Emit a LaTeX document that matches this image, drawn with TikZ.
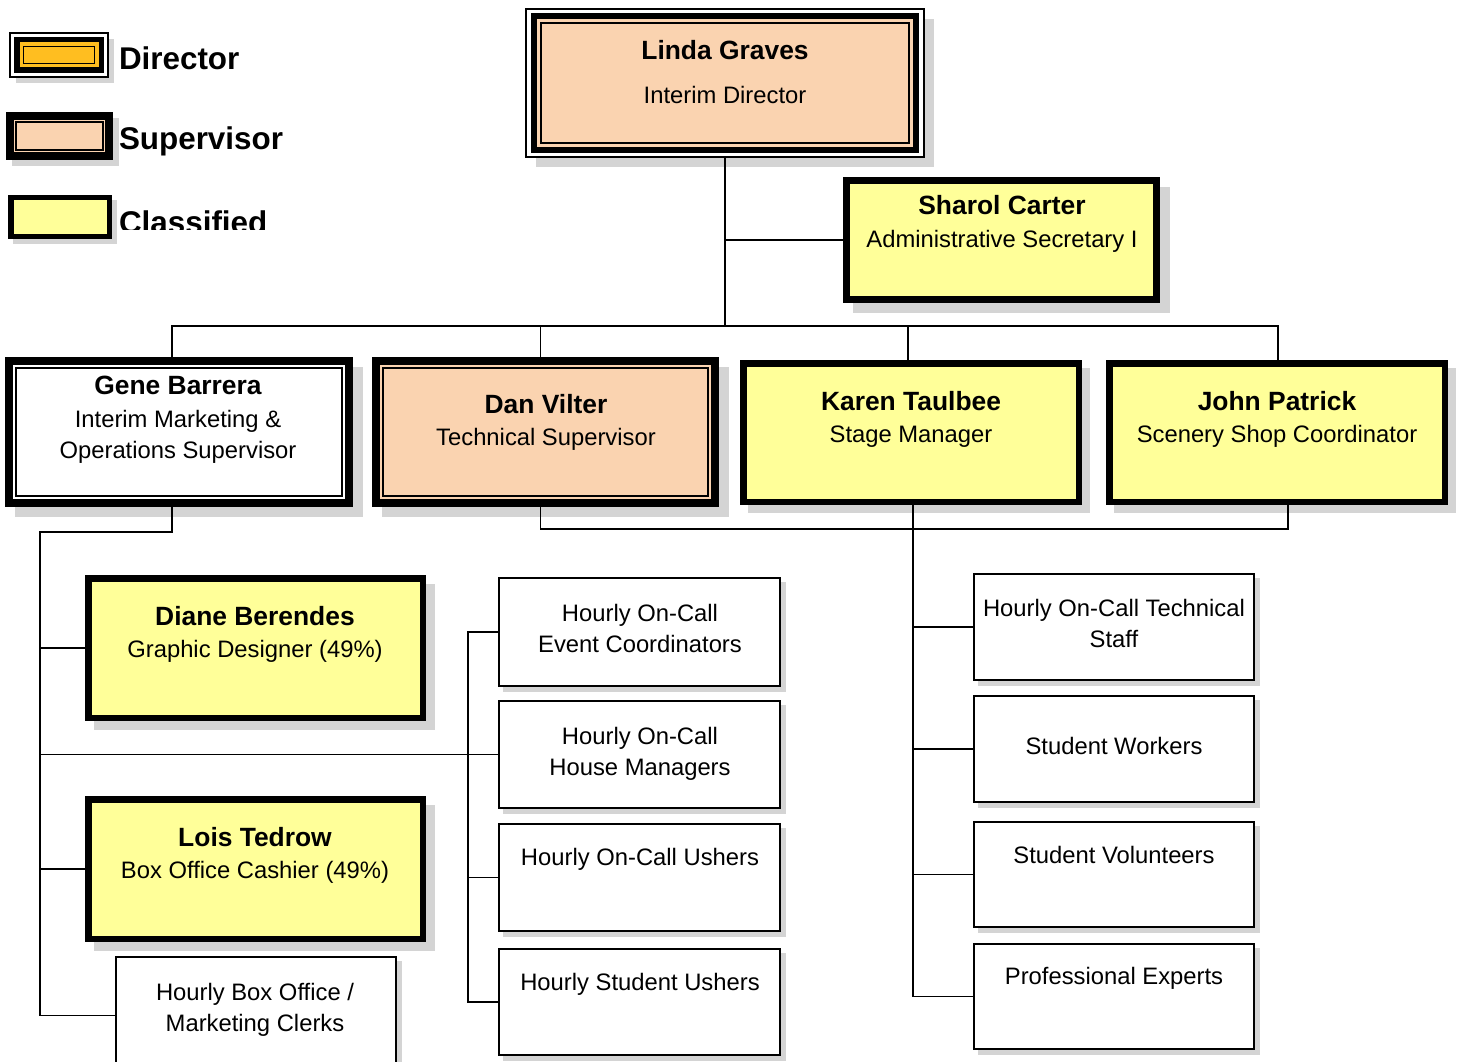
\documentclass[tikz,border=0pt]{standalone}
\usepackage{fontspec}
\setmainfont{Liberation Sans}
\usetikzlibrary{calc}
\pgfdeclarelayer{shadow}\pgfdeclarelayer{lines}\pgfdeclarelayer{frame}\pgfdeclarelayer{bg}
\pgfsetlayers{bg,shadow,lines,frame,main}
\definecolor{peach}{RGB}{250,211,176}
\definecolor{cyellow}{RGB}{255,255,153}
\definecolor{dorange}{RGB}{255,190,32}
\definecolor{shadowc}{RGB}{212,212,212}
\newcommand\myshadow[5]{\begin{pgfonlayer}{shadow}\fill[shadowc] ({#1+#5},{#2+#5}) rectangle ({#3+#5},{#4+#5});\end{pgfonlayer}}
\newcommand\obox[7]{\node[#2, draw=black, line width=#3pt, minimum width={#6-#4-#3}, minimum height={#7-#5-#3}] (#1) at ({(#4+#6)/2},{(#5+#7)/2}) {};}
\newcommand\innerline[2]{\draw[line width=1.4pt] ([shift={(#2,#2)}]#1.north west) rectangle ([shift={(-#2,-#2)}]#1.south east);}
\begin{document}
\begin{tikzpicture}[x=1pt, y=-1pt,
  every node/.style={inner sep=0pt, outer sep=0pt},
  nm/.style={font=\fontsize{26.4}{31}\selectfont\bfseries},
  tx/.style={font=\fontsize{23.8}{31.5}\selectfont, align=center},
  lg/.style={font=\fontsize{31.4}{36}\selectfont\bfseries, anchor=west},
  conn/.style={draw=black, line width=1.8pt}]
\useasboundingbox (0,0) rectangle (1460,1062);
\begin{pgfonlayer}{bg}\fill[white] (0,0) rectangle (1460,1062);\end{pgfonlayer}

% ---------- legend ----------
\myshadow{10}{33}{108}{77}{6}
\begin{pgfonlayer}{frame}\draw[line width=1.5pt, fill=white] (10,33) rectangle (108,77);\end{pgfonlayer}
\obox{legdir}{fill=dorange}{5.5}{14}{37}{104}{73}
\innerline{legdir}{7}
\node[lg] (legdir-t) at (119,58) {Director};

\myshadow{6}{112}{113}{160}{6}
\obox{legsup}{fill=peach}{8}{6}{112}{113}{160}
\innerline{legsup}{6}
\node[lg] (legsup-t) at (119,141) {Supervisor};

\myshadow{8}{195}{112}{239}{5}
\obox{legcls}{fill=cyellow}{5.5}{8}{195}{112}{239}
\begin{scope}
\clip (112,185) rectangle (320,229.5);
\node[lg] (legcls-t) at (119,222) {Classified};
\end{scope}

% ---------- Linda ----------
\myshadow{526}{9}{924}{157}{10}
\begin{pgfonlayer}{frame}\draw[line width=1.5pt, fill=white] (526,9) rectangle (924,157);\end{pgfonlayer}
\obox{linda}{fill=peach}{6}{531}{13}{919}{153}
\innerline{linda}{7}
\node[nm] (linda-n) at (725,50) {Linda Graves};
\node[tx] (linda-t) at (725,95) {Interim Director};

% ---------- Sharol ----------
\myshadow{843}{177}{1160}{303}{10}
\obox{sharol}{fill=cyellow}{7}{843}{177}{1160}{303}
\node[nm] (sharol-n) at (1002,205) {Sharol Carter};
\node[tx] (sharol-t) at (1002,241) {Administrative Secretary I};

% ---------- second row ----------
\myshadow{5}{357}{353}{507}{10}
\obox{gene}{fill=white}{8}{5}{357}{353}{507}
\innerline{gene}{7}
\node[nm] (gene-n) at (178,385) {Gene Barrera};
\node[tx] (gene-t) at (178,437) {Interim Marketing \&\\Operations Supervisor};

\myshadow{372}{357}{719}{507}{10}
\obox{dan}{fill=peach}{8}{372}{357}{719}{507}
\innerline{dan}{7}
\node[nm] (dan-n) at (546,404) {Dan Vilter};
\node[tx] (dan-t) at (546,439.5) {Technical Supervisor};

\myshadow{740}{360}{1082}{505}{8}
\obox{karen}{fill=cyellow}{6.5}{740}{360}{1082}{505}
\node[nm] (karen-n) at (911,401) {Karen Taulbee};
\node[tx] (karen-t) at (911,436.5) {Stage Manager};

\myshadow{1106}{360}{1448}{505}{8}
\obox{john}{fill=cyellow}{6.5}{1106}{360}{1448}{505}
\node[nm] (john-n) at (1277,401) {John Patrick};
\node[tx] (john-t) at (1277,436.5) {Scenery Shop Coordinator};

% ---------- left column ----------
\myshadow{85}{575}{426}{721}{9}
\obox{diane}{fill=cyellow}{6.5}{85}{575}{426}{721}
\node[nm] (diane-n) at (255,616) {Diane Berendes};
\node[tx] (diane-t) at (255,651.5) {Graphic Designer (49\%)};

\myshadow{85}{796}{426}{942}{9}
\obox{lois}{fill=cyellow}{6.5}{85}{796}{426}{942}
\node[nm] (lois-n) at (255,837) {Lois Tedrow};
\node[tx] (lois-t) at (255,872.5) {Box Office Cashier (49\%)};

\myshadow{115}{956}{397}{1075}{5}
\obox{hbo}{fill=white}{2}{115}{956}{397}{1075}
\node[tx] (hbo-t) at (255,1010) {Hourly Box Office /\\Marketing Clerks};

% ---------- middle column ----------
\myshadow{498}{577}{781}{687}{5}
\obox{m1}{fill=white}{2}{498}{577}{781}{687}
\node[tx] (m1-t) at (640,628.5) {Hourly On-Call\\Event Coordinators};
\myshadow{498}{700}{781}{809}{5}
\obox{m2}{fill=white}{2}{498}{700}{781}{809}
\node[tx] (m2-t) at (640,754) {Hourly On-Call\\House Managers};
\myshadow{498}{823}{781}{932}{5}
\obox{m3}{fill=white}{2}{498}{823}{781}{932}
\node[tx] (m3-t) at (640,859.5) {Hourly On-Call Ushers};
\myshadow{498}{948}{781}{1056}{5}
\obox{m4}{fill=white}{2}{498}{948}{781}{1056}
\node[tx] (m4-t) at (640,984.5) {Hourly Student Ushers};

% ---------- right column ----------
\myshadow{973}{573}{1255}{681}{5}
\obox{r1}{fill=white}{2}{973}{573}{1255}{681}
\node[tx] (r1-t) at (1114,623.5) {Hourly On-Call Technical\\Staff};
\myshadow{973}{695}{1255}{803}{5}
\obox{r2}{fill=white}{2}{973}{695}{1255}{803}
\node[tx] (r2-t) at (1114,746) {Student Workers};
\myshadow{973}{821}{1255}{928}{5}
\obox{r3}{fill=white}{2}{973}{821}{1255}{928}
\node[tx] (r3-t) at (1114,855) {Student Volunteers};
\myshadow{973}{943}{1255}{1050}{5}
\obox{r4}{fill=white}{2}{973}{943}{1255}{1050}
\node[tx] (r4-t) at (1114,978.5) {Professional Experts};

% ---------- connectors ----------
\begin{pgfonlayer}{lines}
\coordinate (bus) at (725,326);
\coordinate (bus2) at (913,529);
\coordinate (gj) at (40,532);
\draw[conn] (linda.south) -- (bus);
\draw[conn] (sharol.west) -- (sharol.west -| bus);
\draw[conn] ([xshift=-7pt]gene.north) |- (bus) -| ([xshift=1pt]john.north);
\draw[conn] ([xshift=-5pt]dan.north) -- ([xshift=-5pt]dan.north |- bus);
\draw[conn] ([xshift=-3pt]karen.north) -- ([xshift=-3pt]karen.north |- bus);
\draw[conn] ([xshift=-7pt]gene.south) |- (gj) |- (hbo.west);
\draw[conn] (diane.west -| gj) -- (diane.west);
\draw[conn] (lois.west -| gj) -- (lois.west);
\draw[conn] (m2.west -| gj) -- (m2.west);
\draw[conn] (m1.west) -- ++(-31,0) |- (m4.west);
\draw[conn] (m3.west) -- ++(-31,0);
\draw[conn] ([xshift=-5pt]dan.south) |- (bus2) -| ([xshift=11pt]john.south);
\draw[conn] (karen.south -| bus2) |- (r4.west);
\draw[conn] (r1.west -| bus2) -- (r1.west);
\draw[conn] (r2.west -| bus2) -- (r2.west);
\draw[conn] (r3.west -| bus2) -- (r3.west);
\end{pgfonlayer}
\end{tikzpicture}
\end{document}
